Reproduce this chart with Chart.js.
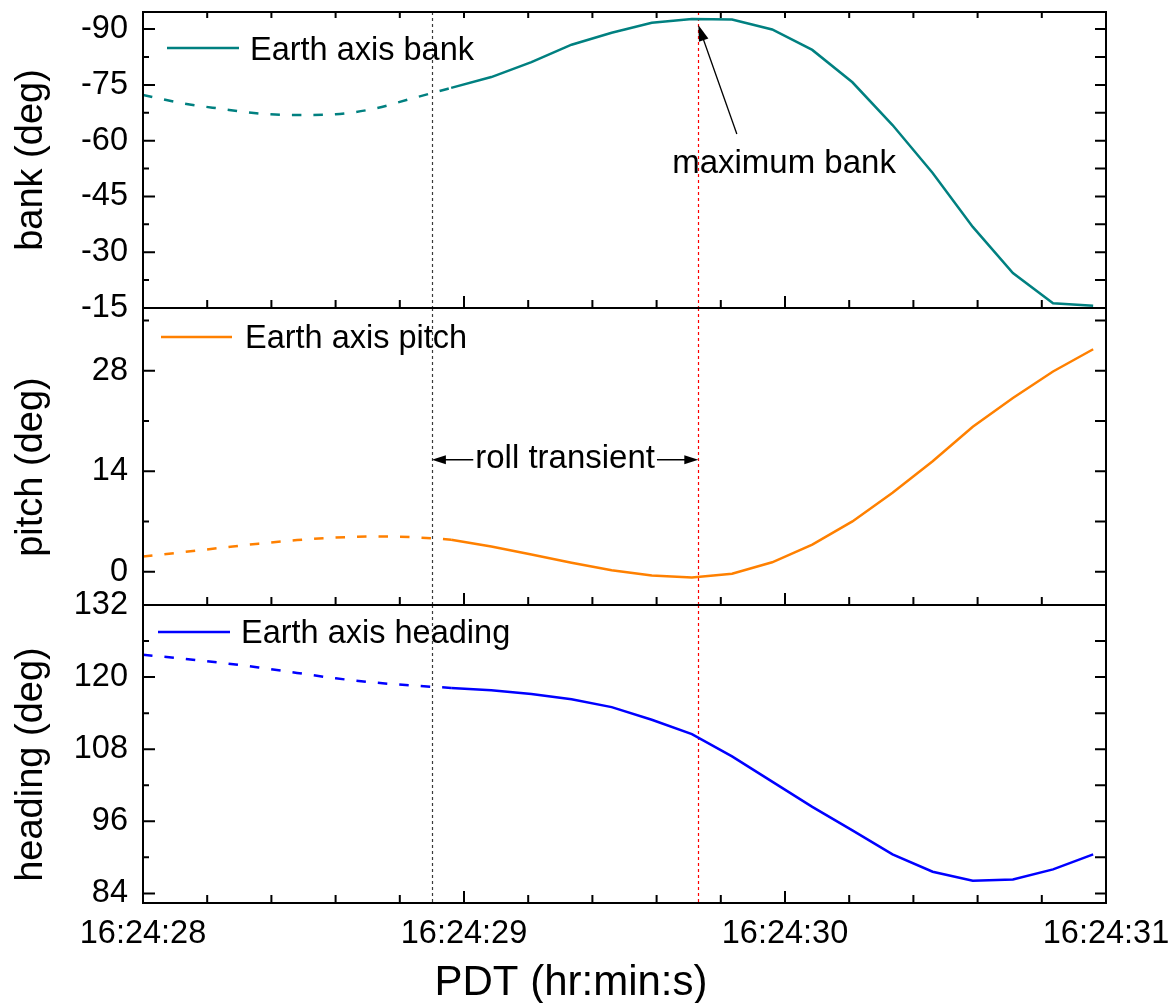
<!DOCTYPE html>
<html><head><meta charset="utf-8">
<script src="https://cdn.jsdelivr.net/npm/chart.js@4.4.1/dist/chart.umd.min.js"></script>
<style>
html,body{margin:0;padding:0;background:#fff;}
#wrap{position:relative;width:1173px;height:1003px;background:#fff;overflow:hidden;}
canvas{position:absolute;left:0;top:-200px;}
</style></head><body>
<div id="wrap">
<canvas id="c1" width="1273" height="1203"></canvas>
<canvas id="c2" width="1273" height="1203"></canvas>
<canvas id="c3" width="1273" height="1203"></canvas>
</div>
<script>
// ---- data (seconds after 16:24:00) ----
const timeSolid  = [28.96, 29.085, 29.21, 29.335, 29.46, 29.585, 29.71, 29.835, 29.96, 30.085, 30.21, 30.335, 30.46, 30.585, 30.71, 30.835, 30.96];
const timeDashed = [28.0, 28.12, 28.24, 28.36, 28.48, 28.6, 28.72, 28.84, 28.96];

const bankSolid  = [-74.2, -77.1, -81.1, -85.8, -89.0, -91.7, -92.7, -92.6, -89.9, -84.4, -75.7, -64.2, -51.3, -36.8, -24.4, -16.3, -15.6];
const bankDashed = [-72.3, -70.1, -68.6, -67.3, -66.9, -67.1, -68.6, -71.4, -74.2];

const pitchSolid  = [4.46, 3.5, 2.4, 1.25, 0.2, -0.55, -0.8, -0.3, 1.3, 3.76, 7.0, 11.0, 15.4, 20.2, 24.2, 27.9, 31.0];
const pitchDashed = [2.1, 2.7, 3.3, 3.9, 4.4, 4.75, 4.9, 4.8, 4.46];

const headingSolid  = [118.2, 117.8, 117.2, 116.3, 115.0, 112.9, 110.5, 106.8, 102.6, 98.4, 94.5, 90.5, 87.6, 86.1, 86.3, 88.0, 90.5];
const headingDashed = [123.7, 123.1, 122.4, 121.6, 120.7, 119.8, 119.1, 118.6, 118.2];

// ---- ticks ----
const xTickValues = [28, 29, 30, 31];
const xTickLabels = ['16:24:28', '16:24:29', '16:24:30', '16:24:31'];
const xMinorStep = 0.2;
const bankTicks = [-90, -75, -60, -45, -30, -15];
const pitchTicks = [0, 14, 28];
const headingTicks = [84, 96, 108, 120, 132];

// ---- annotation anchors (data units) ----
const rollStartTime = 28.90;
const maxBankTime = 29.73;
const maxBankArrowTail = {x: 29.85, y: -61.8};
const maxBankArrowTip = {x: 29.73, y: -91.1};
const maxBankLabel = {x: 29.997, y: -51.3, text: 'maximum bank'};
const rollLabel = {y: 15.6, text: 'roll transient'};

const FONT = "'Liberation Sans', Arial, Helvetica, sans-serif";
Chart.defaults.font.family = FONT;
Chart.defaults.color = '#000';
const OFF = 200;   // canvas is shifted up by this many px
const RIGHT = 167; // space right of the plot inside the (wider) canvas

function zip(ts, vs) { return ts.map((t, i) => ({x: t, y: vs[i]})); }

function minorValues(ticks, min, max) {
  const step = (ticks[1] - ticks[0]) / 2;
  const out = [];
  const lo = Math.min(min, max), hi = Math.max(min, max);
  for (let v = ticks[0] - step * 40; v <= hi + 1e-9; v += step) {
    if (v >= lo - 1e-9 && !ticks.some(t => Math.abs(t - v) < 1e-6)) out.push(v);
  }
  return out;
}

function arrowHead(ctx, x1, y1, x2, y2, len, half) {
  const a = Math.atan2(y2 - y1, x2 - x1);
  const bx = x2 - len * Math.cos(a), by = y2 - len * Math.sin(a);
  ctx.beginPath();
  ctx.moveTo(x2, y2);
  ctx.lineTo(bx + half * Math.sin(a), by - half * Math.cos(a));
  ctx.lineTo(bx - half * Math.sin(a), by + half * Math.cos(a));
  ctx.closePath();
  ctx.fill();
}

function makeChart(id, cfg) {
  const yMinor = minorValues(cfg.ticks, cfg.min, cfg.max);
  const xMinor = [];
  for (let v = 28; v <= 31 + 1e-9; v += xMinorStep) {
    if (!xTickValues.some(t => Math.abs(t - v) < 1e-6)) xMinor.push(v);
  }
  const plugin = {
    id: 'decor' + id,
    beforeDatasetsDraw(chart) {
      const {ctx, chartArea: a, scales: {x}} = chart;
      ctx.save();
      ctx.lineWidth = 1.2;
      ctx.setLineDash([3, 3]);
      ctx.strokeStyle = '#3a3a3a';
      let px = Math.round(x.getPixelForValue(rollStartTime)) + 0.5;
      ctx.beginPath(); ctx.moveTo(px, a.top); ctx.lineTo(px, a.bottom); ctx.stroke();
      ctx.strokeStyle = '#ff0000';
      px = Math.round(x.getPixelForValue(maxBankTime)) + 0.5;
      ctx.beginPath(); ctx.moveTo(px, a.top); ctx.lineTo(px, a.bottom); ctx.stroke();
      ctx.restore();
    },
    afterDraw(chart) {
      const {ctx, chartArea: a, scales: {x, y}} = chart;
      ctx.save();
      ctx.strokeStyle = '#000';
      ctx.lineWidth = 2;
      ctx.setLineDash([]);
      ctx.strokeRect(a.left, a.top, a.right - a.left, a.bottom - a.top);
      ctx.beginPath();
      cfg.ticks.forEach(v => {
        const p = y.getPixelForValue(v);
        ctx.moveTo(a.left, p); ctx.lineTo(a.left + 12, p);
        ctx.moveTo(a.right, p); ctx.lineTo(a.right - 11, p);
      });
      yMinor.forEach(v => {
        const p = y.getPixelForValue(v);
        ctx.moveTo(a.left, p); ctx.lineTo(a.left + 6, p);
        ctx.moveTo(a.right, p); ctx.lineTo(a.right - 11, p);
      });
      xTickValues.forEach(v => {
        const p = x.getPixelForValue(v);
        ctx.moveTo(p, a.bottom); ctx.lineTo(p, a.bottom - 12);
        if (cfg.topTicks) { ctx.moveTo(p, a.top); ctx.lineTo(p, a.top + 6); }
      });
      xMinor.forEach(v => {
        const p = x.getPixelForValue(v);
        ctx.moveTo(p, a.bottom); ctx.lineTo(p, a.bottom - 8);
        if (cfg.topTicks) { ctx.moveTo(p, a.top); ctx.lineTo(p, a.top + 6); }
      });
      ctx.stroke();

      // legend
      const L = cfg.legend;
      ctx.strokeStyle = cfg.color;
      ctx.lineWidth = 2.5;
      ctx.beginPath();
      ctx.moveTo(L.x0, a.top + L.lineDy); ctx.lineTo(L.x1, a.top + L.lineDy);
      ctx.stroke();
      ctx.fillStyle = '#000';
      ctx.font = '32.5px ' + FONT;
      ctx.textAlign = 'left';
      ctx.textBaseline = 'alphabetic';
      ctx.fillText(cfg.label, L.tx, a.top + L.textDy);

      if (cfg.extra) cfg.extra(chart);
      ctx.restore();
    }
  };

  return new Chart(document.getElementById(id), {
    type: 'line',
    data: {
      datasets: [
        {label: cfg.label + ' (extrapolated)', data: zip(timeDashed, cfg.dashed), borderColor: cfg.color,
         borderWidth: 2.5, borderDash: [9.5, 12], pointRadius: 0, tension: 0.4,
         cubicInterpolationMode: 'monotone', fill: false},
        {label: cfg.label, data: zip(timeSolid, cfg.solid), borderColor: cfg.color,
         borderWidth: 2.5, pointRadius: 0, tension: 0, fill: false}
      ]
    },
    options: {
      responsive: false, animation: false, devicePixelRatio: 1, events: [],
      layout: {padding: cfg.padding},
      plugins: {legend: {display: false}, tooltip: {enabled: false}},
      scales: {
        x: {
          type: 'linear', min: 28, max: 31, display: cfg.showX,
          afterBuildTicks: s => { s.ticks = xTickValues.map(v => ({value: v})); },
          afterFit: s => { if (cfg.showX) s.height = 100; },
          ticks: {callback: (v, i) => xTickLabels[i], font: {size: 32.5}, color: '#000',
                  padding: 12, maxRotation: 0, autoSkip: false},
          grid: {display: false, drawTicks: false}, border: {display: false}
        },
        y: {
          type: 'linear', min: cfg.min, max: cfg.max, reverse: !!cfg.reverse,
          afterBuildTicks: s => { s.ticks = cfg.ticks.map(v => ({value: v})); },
          afterFit: s => { s.width = 143; },
          ticks: {font: {size: 32.5}, color: '#000', padding: 15, autoSkip: false},
          grid: {display: false, drawTicks: false}, border: {display: false},
          title: {display: true, text: cfg.title, font: {size: 38}, color: '#000',
                  padding: {top: 9, bottom: 0}}
        }
      }
    },
    plugins: [plugin]
  });
}

makeChart('c1', {
  label: 'Earth axis bank', color: '#008080', title: 'bank (deg)',
  solid: bankSolid, dashed: bankDashed, ticks: bankTicks,
  min: -94.6, max: -15, reverse: true, showX: false, topTicks: true,
  padding: {top: OFF + 12, bottom: 1003 - 308, left: 0, right: RIGHT},
  legend: {x0: 167, x1: 239, lineDy: 36, tx: 250, textDy: 48},
  extra(chart) {
    const {ctx, scales: {x, y}} = chart;
    const tx = x.getPixelForValue(maxBankArrowTail.x), ty = y.getPixelForValue(maxBankArrowTail.y);
    const hx = x.getPixelForValue(maxBankArrowTip.x), hy = y.getPixelForValue(maxBankArrowTip.y);
    ctx.strokeStyle = '#000'; ctx.fillStyle = '#000'; ctx.lineWidth = 1.3;
    ctx.beginPath(); ctx.moveTo(tx, ty); ctx.lineTo(hx + (tx - hx) * 0.1, hy + (ty - hy) * 0.1); ctx.stroke();
    arrowHead(ctx, tx, ty, hx, hy, 16, 5);
    ctx.font = '33px ' + FONT; ctx.textAlign = 'center'; ctx.textBaseline = 'alphabetic';
    ctx.fillText(maxBankLabel.text, x.getPixelForValue(maxBankLabel.x), y.getPixelForValue(maxBankLabel.y));
  }
});

makeChart('c2', {
  label: 'Earth axis pitch', color: '#ff8000', title: 'pitch (deg)  ',
  solid: pitchSolid, dashed: pitchDashed, ticks: pitchTicks,
  min: -4.65, max: 36.75, showX: false, topTicks: false,
  padding: {top: OFF + 308, bottom: 1003 - 605, left: 0, right: RIGHT},
  legend: {x0: 161, x1: 232, lineDy: 29, tx: 245, textDy: 40},
  extra(chart) {
    const {ctx, scales: {x, y}} = chart;
    const x1 = x.getPixelForValue(rollStartTime), x2 = x.getPixelForValue(maxBankTime);
    const py = y.getPixelForValue(rollLabel.y);
    ctx.font = '33px ' + FONT; ctx.textAlign = 'center'; ctx.textBaseline = 'alphabetic';
    const cx = (x1 + x2) / 2;
    const w = ctx.measureText(rollLabel.text).width;
    ctx.fillStyle = '#000'; ctx.strokeStyle = '#000'; ctx.lineWidth = 1.3;
    ctx.fillText(rollLabel.text, cx, py + 8);
    ctx.beginPath();
    ctx.moveTo(cx - w / 2 - 2, py); ctx.lineTo(x1 + 8, py);
    ctx.moveTo(cx + w / 2 + 2, py); ctx.lineTo(x2 - 8, py);
    ctx.stroke();
    arrowHead(ctx, x1 + 20, py, x1, py, 14, 4.5);
    arrowHead(ctx, x2 - 20, py, x2, py, 14, 4.5);
  }
});

makeChart('c3', {
  label: 'Earth axis heading', color: '#0000ff', title: 'heading (deg)  ',
  solid: headingSolid, dashed: headingDashed, ticks: headingTicks,
  min: 82.4, max: 132, showX: true, topTicks: false,
  padding: {top: OFF + 605, bottom: 0, left: 0, right: RIGHT},
  legend: {x0: 158, x1: 230, lineDy: 27, tx: 241, textDy: 38},
  extra(chart) {
    const {ctx} = chart;
    ctx.fillStyle = '#000';
    ctx.font = '42px ' + FONT; ctx.textAlign = 'center'; ctx.textBaseline = 'alphabetic';
    ctx.fillText('PDT (hr:min:s)', 571, OFF + 995);
  }
});
</script>
</body></html>
